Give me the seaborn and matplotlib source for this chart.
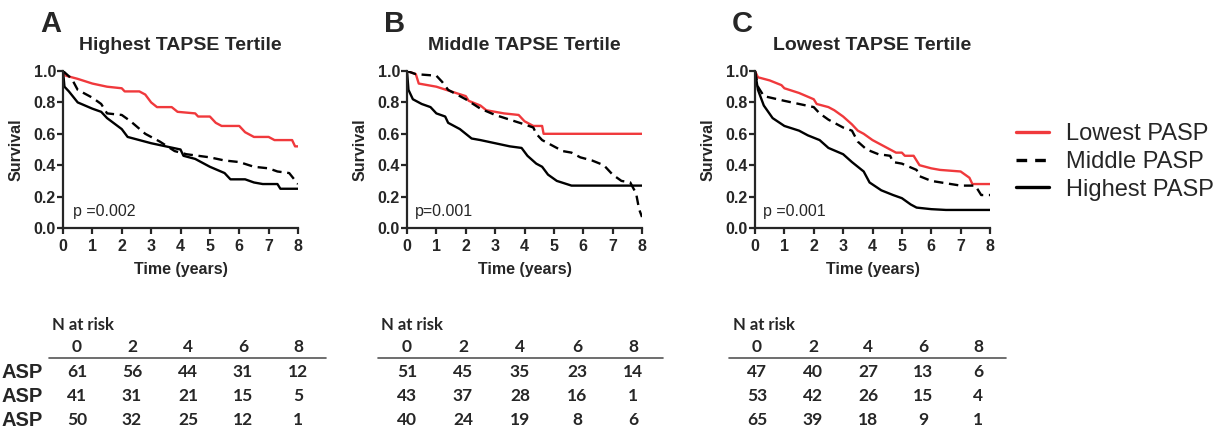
import matplotlib
matplotlib.use("Agg")
import matplotlib.pyplot as plt
from matplotlib.lines import Line2D
import seaborn as sns

# ---- curves (time in years, survival) ----
a_low_t = [0, 0.1, 0.5, 1.0, 1.5, 2.0, 2.1, 2.6, 2.8, 3.0, 3.2, 3.7, 3.9, 4.5, 4.6, 5.0, 5.2, 5.4, 6.0, 6.2, 6.5, 7.0, 7.2, 7.8, 7.9, 8.0]
a_low_s = [1.0, 0.97, 0.95, 0.92, 0.90, 0.89, 0.87, 0.87, 0.85, 0.80, 0.77, 0.77, 0.74, 0.73, 0.71, 0.71, 0.67, 0.65, 0.65, 0.61, 0.58, 0.58, 0.56, 0.56, 0.52, 0.52]
a_mid_t = [0, 0.3, 0.5, 1.0, 1.3, 1.5, 2.0, 2.3, 2.8, 3.3, 3.8, 4.2, 5.0, 5.5, 6.0, 6.5, 7.0, 7.3, 7.7, 8.0]
a_mid_s = [1.0, 0.95, 0.88, 0.83, 0.79, 0.73, 0.72, 0.68, 0.60, 0.55, 0.49, 0.47, 0.45, 0.43, 0.42, 0.39, 0.38, 0.36, 0.35, 0.28]
a_high_t = [0, 0.05, 0.2, 0.5, 1.0, 1.3, 1.5, 2.0, 2.2, 3.0, 3.5, 4.0, 4.1, 4.5, 5.0, 5.5, 5.7, 6.2, 6.5, 6.8, 7.3, 7.4, 8.0]
a_high_s = [1.0, 0.90, 0.87, 0.80, 0.76, 0.74, 0.70, 0.63, 0.58, 0.54, 0.52, 0.50, 0.46, 0.44, 0.39, 0.35, 0.31, 0.31, 0.29, 0.28, 0.28, 0.25, 0.25]

b_low_t = [0, 0.3, 0.4, 1.0, 1.5, 2.0, 2.1, 2.5, 2.7, 3.0, 3.3, 3.8, 4.0, 4.3, 4.6, 4.65, 8.0]
b_low_s = [1.0, 0.98, 0.92, 0.90, 0.87, 0.84, 0.81, 0.78, 0.75, 0.74, 0.73, 0.72, 0.68, 0.65, 0.65, 0.60, 0.60]
b_mid_t = [0, 0.3, 1.0, 1.2, 1.4, 2.0, 2.5, 3.0, 3.5, 4.0, 4.3, 4.4, 4.6, 5.0, 5.3, 5.6, 5.9, 6.3, 6.7, 7.0, 7.3, 7.6, 7.8, 7.9, 8.0]
b_mid_s = [1.0, 0.98, 0.97, 0.93, 0.88, 0.82, 0.76, 0.72, 0.69, 0.66, 0.64, 0.60, 0.56, 0.52, 0.49, 0.48, 0.45, 0.43, 0.40, 0.34, 0.30, 0.29, 0.22, 0.12, 0.07]
b_high_t = [0, 0.05, 0.2, 0.5, 0.8, 1.0, 1.3, 1.4, 1.8, 2.2, 2.5, 3.0, 3.5, 3.9, 4.1, 4.4, 4.6, 4.8, 5.1, 5.6, 8.0]
b_high_s = [1.0, 0.88, 0.82, 0.79, 0.77, 0.73, 0.71, 0.67, 0.63, 0.57, 0.56, 0.54, 0.52, 0.51, 0.46, 0.41, 0.39, 0.34, 0.30, 0.27, 0.27]

c_low_t = [0, 0.1, 0.5, 0.9, 1.0, 1.5, 2.0, 2.1, 2.5, 2.7, 3.0, 3.3, 3.5, 3.7, 4.0, 4.3, 4.6, 4.8, 5.0, 5.1, 5.4, 5.6, 6.0, 6.3, 7.0, 7.3, 7.4, 8.0]
c_low_s = [1.0, 0.96, 0.94, 0.91, 0.89, 0.86, 0.82, 0.79, 0.77, 0.75, 0.71, 0.66, 0.62, 0.60, 0.56, 0.53, 0.50, 0.48, 0.48, 0.46, 0.46, 0.40, 0.38, 0.37, 0.36, 0.32, 0.28, 0.28]
c_mid_t = [0, 0.1, 0.3, 1.0, 1.5, 2.0, 2.2, 2.5, 3.0, 3.3, 3.5, 3.8, 4.2, 4.6, 4.7, 5.0, 5.5, 5.6, 6.0, 7.0, 7.5, 7.7, 8.0]
c_mid_s = [1.0, 0.90, 0.84, 0.81, 0.79, 0.77, 0.73, 0.69, 0.64, 0.62, 0.55, 0.50, 0.47, 0.46, 0.42, 0.41, 0.37, 0.33, 0.30, 0.27, 0.27, 0.21, 0.21]
c_high_t = [0, 0.1, 0.3, 0.6, 1.0, 1.5, 1.8, 2.2, 2.5, 3.0, 3.3, 3.7, 3.9, 4.3, 4.7, 5.0, 5.3, 5.5, 6.0, 6.5, 8.0]
c_high_s = [1.0, 0.88, 0.78, 0.70, 0.65, 0.62, 0.59, 0.56, 0.51, 0.47, 0.42, 0.36, 0.29, 0.24, 0.21, 0.19, 0.15, 0.13, 0.12, 0.115, 0.115]

panel_letters = ["A", "B", "C"]
panel_titles = ["Highest TAPSE Tertile", "Middle TAPSE Tertile", "Lowest TAPSE Tertile"]
p_values = ["p =0.002", "p=0.001", "p =0.001"]
group_names = ["Lowest PASP", "Middle PASP", "Highest PASP"]
# what is left of the row names at the left edge of the picture
row_stubs = ["ASP", "ASP", "ASP"]

# ---- numbers at risk ----
risk_times = ["0", "2", "4", "6", "8"]
a_risk_low = [61, 56, 44, 31, 12]
a_risk_mid = [41, 31, 21, 15, 5]
a_risk_high = [50, 32, 25, 12, 1]
b_risk_low = [51, 45, 35, 23, 14]
b_risk_mid = [43, 37, 28, 16, 1]
b_risk_high = [40, 24, 19, 8, 6]
c_risk_low = [47, 40, 27, 13, 6]
c_risk_mid = [53, 42, 26, 15, 4]
c_risk_high = [65, 39, 18, 9, 1]

curves = [
    [(a_low_t, a_low_s), (a_mid_t, a_mid_s), (a_high_t, a_high_s)],
    [(b_low_t, b_low_s), (b_mid_t, b_mid_s), (b_high_t, b_high_s)],
    [(c_low_t, c_low_s), (c_mid_t, c_mid_s), (c_high_t, c_high_s)],
]
risks = [
    [a_risk_low, a_risk_mid, a_risk_high],
    [b_risk_low, b_risk_mid, b_risk_high],
    [c_risk_low, c_risk_mid, c_risk_high],
]

sns.set_style("ticks")
plt.rcParams["font.family"] = ["Liberation Sans", "DejaVu Sans"]

W, H = 1227, 434
fig = plt.figure(figsize=(W / 100, H / 100), dpi=100)

RED = "#f0393c"
colors = [RED, "black", "black"]
styles = ["-", (0, (4, 2.4)), "-"]

ax_left_px = [63, 407, 755]
ax_w_px, ax_top_px, ax_bot_px = 235, 71, 228
p_x = [0.34, 0.28, 0.28]

# table layout (pixels)
col_x = [[77, 132, 188, 243, 298], [407, 463, 520, 577, 633], [757, 813, 868, 923, 978]]
rule_x = [(49, 326), (378, 663), (729, 1006)]
nrisk_x = [52, 381, 733]
row_y = [372, 396, 420]


def fx(px):
    return px / W


def fy(py):
    return 1 - py / H


for i in range(3):
    ax = fig.add_axes([fx(ax_left_px[i]), fy(ax_bot_px), ax_w_px / W, (ax_bot_px - ax_top_px) / H])
    for (t, s), c, ls, name in zip(curves[i], colors, styles, group_names):
        sns.lineplot(x=t, y=s, ax=ax, color=c, linestyle=ls, lw=1.7,
                     estimator=None, sort=False, label=name, legend=False)
    ax.set_xlim(0, 8)
    ax.set_ylim(0, 1)
    ax.set_xticks(range(9))
    ax.set_yticks([0, 0.2, 0.4, 0.6, 0.8, 1.0])
    ax.set_yticklabels(["0.0", "0.2", "0.4", "0.6", "0.8", "1.0"])
    for sp in ["left", "bottom"]:
        ax.spines[sp].set_linewidth(1.6)
    sns.despine(ax=ax)
    ax.tick_params(axis="both", width=1.6, length=4, labelsize=11.5)
    ax.tick_params(axis="y", pad=1)
    ax.tick_params(axis="x", pad=4)
    for lab in ax.get_xticklabels() + ax.get_yticklabels():
        lab.set_fontweight("bold")
    ax.set_xlabel("Time (years)", fontsize=11.5, fontweight="bold")
    ax.set_ylabel("Survival", fontsize=11.5, fontweight="bold")
    ax.xaxis.set_label_coords(0.5, -0.215)
    ax.yaxis.set_label_coords(-0.17, 0.5)
    ax.set_title(panel_titles[i], fontsize=14, fontweight="bold", pad=15)
    ax.text(-0.098, 1.248, panel_letters[i], transform=ax.transAxes,
            fontsize=21, fontweight="bold", va="baseline", ha="left")
    ax.text(p_x[i], 0.105, p_values[i], fontsize=11.5, va="center", ha="left")

    # number-at-risk table
    tf = ["Lato", "DejaVu Sans"]
    fig.text(fx(nrisk_x[i]), fy(325), "N at risk", family=tf, fontsize=12,
             fontweight="bold", ha="left", va="center")
    for x, lab in zip(col_x[i], risk_times):
        fig.text(fx(x), fy(347), lab, family=tf, fontsize=12.5,
                 fontweight="bold", ha="center", va="center")
    fig.add_artist(Line2D([fx(rule_x[i][0]), fx(rule_x[i][1])], [fy(358), fy(358)],
                          color="#555555", lw=1.2))
    for row, y in zip(risks[i], row_y):
        for x, n in zip(col_x[i], row):
            fig.text(fx(x), fy(y), str(n), family=tf, fontsize=12.5,
                     fontweight="bold", ha="center", va="center")

# row labels (only their ends show at the left edge)
for stub, y in zip(row_stubs, row_y):
    fig.text(fx(43), fy(y), stub, fontsize=14.5, fontweight="bold",
             ha="right", va="center")

handles = [
    Line2D([], [], color=RED, lw=2.4),
    Line2D([], [], color="black", lw=2.4, linestyle=(0, (3.2, 2.4))),
    Line2D([], [], color="black", lw=2.4),
]
fig.legend(handles, group_names, loc="center left", bbox_to_anchor=(fx(1016), fy(162)),
           frameon=False, fontsize=17, handlelength=1.4, handletextpad=0.7,
           labelspacing=0.24, borderpad=0, borderaxespad=0)

fig.savefig("out.png", dpi=100)
